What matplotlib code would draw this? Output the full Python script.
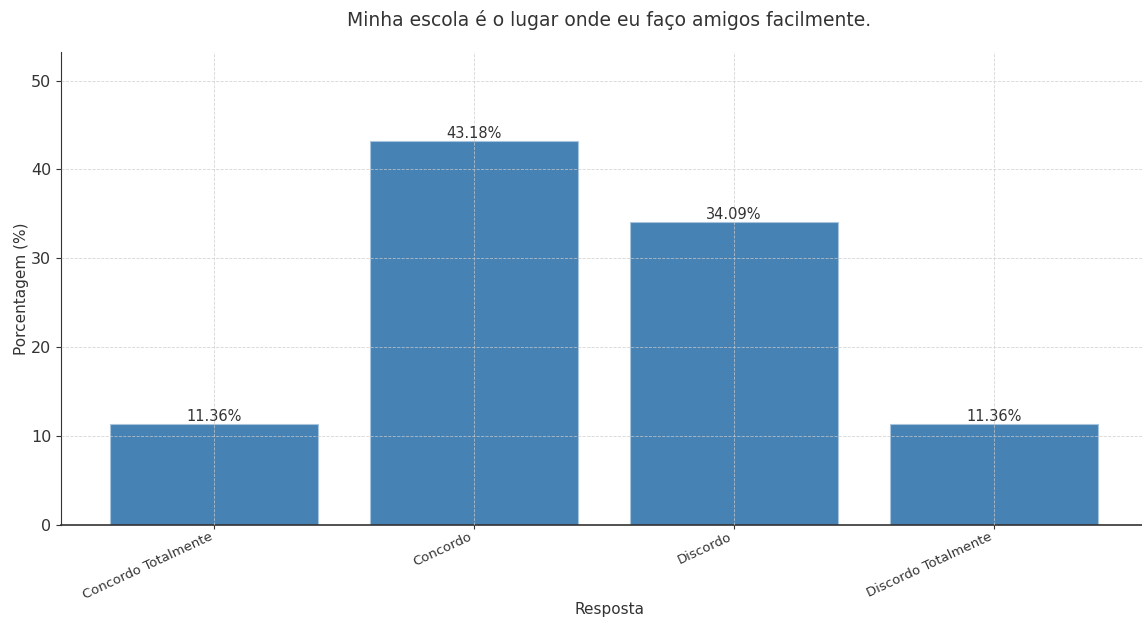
import matplotlib
matplotlib.use('Agg')
import matplotlib.pyplot as plt

respostas = ['Concordo Totalmente', 'Concordo', 'Discordo', 'Discordo Totalmente']
porcentagens = [11.36, 43.18, 34.09, 11.36]

text_color = '#333333'

fig = plt.figure(figsize=(11.42, 6.22), dpi=100)
ax = fig.add_axes([0.0534, 0.156, 0.96, 0.760])

bars = ax.bar(respostas, porcentagens, width=0.8, color='#4682B4',
              edgecolor='#a9c4dd', linewidth=0.8, zorder=2)

# labels em cima de cada barra
for b, v in zip(bars, porcentagens):
    ax.text(b.get_x() + b.get_width() / 2, v, f'{v:.2f}%', ha='center', va='bottom',
            fontsize=10.5, color=text_color, zorder=3)

ax.set_ylim(0, max(porcentagens) + 10)
ax.set_xlim(-0.59, 3.63)
ax.grid(True, linestyle='--', linewidth=0.6, color='#cccccc', zorder=0)
ax.set_axisbelow(False)
for gl in ax.get_xgridlines() + ax.get_ygridlines():
    gl.set_alpha(0.8)

ax.spines['top'].set_visible(False)
ax.spines['right'].set_visible(False)
ax.spines['left'].set_color(text_color)
ax.spines['bottom'].set_color(text_color)
ax.spines['bottom'].set_linewidth(1.2)

ax.tick_params(axis='y', labelsize=11.5, colors=text_color)
ax.tick_params(axis='x', labelsize=9.5, colors=text_color, length=3, pad=1)
plt.setp(ax.get_xticklabels(), rotation=25, ha='right', rotation_mode='default')

ax.set_title('Minha escola é o lugar onde eu faço amigos facilmente.', fontsize=13.5,
             color=text_color, pad=19)
ax.set_xlabel('Resposta', fontsize=11, color=text_color, labelpad=0)
ax.set_ylabel('Porcentagem (%)', fontsize=11, color=text_color, labelpad=1)

fig.savefig('out.png', dpi=100)
